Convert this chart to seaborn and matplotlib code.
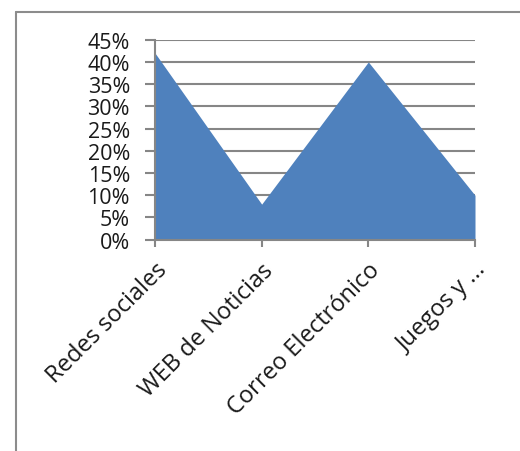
import matplotlib
matplotlib.use("Agg")
import matplotlib.pyplot as plt
import seaborn as sns
import pandas as pd
from matplotlib.lines import Line2D
from matplotlib.ticker import PercentFormatter

# Data
categories = ["Redes sociales", "WEB de Noticias", "Correo Electrónico", "Juegos y ..."]
shares = [0.42, 0.08, 0.40, 0.10]

df = pd.DataFrame({"categoria": categories, "porcentaje": shares})
df["pos"] = range(len(df))

sns.set_style("white")
plt.rcParams["font.family"] = ["Open Sans", "DejaVu Sans"]

fig = plt.figure(figsize=(5.2, 4.52), dpi=100)
ax = fig.add_axes([155 / 520, 1 - 240.7 / 452, 320 / 520, 200 / 452])

grey = "#868686"
txt = "#1a1a1a"

# area
sns.lineplot(data=df, x="pos", y="porcentaje", ax=ax, color="#4F81BD", linewidth=0)
ax.fill_between(df["pos"], df["porcentaje"], color="#4F81BD", linewidth=0, zorder=3)

ax.set_xlim(0, len(categories) - 1)
ax.set_ylim(0, 0.45)
ax.set_yticks([i * 0.05 for i in range(10)])
ax.yaxis.set_major_formatter(PercentFormatter(1.0, decimals=0))
ax.set_xticks(df["pos"])
ax.set_xticklabels(categories, rotation=45, ha="right", va="top",
                   rotation_mode="anchor", fontsize=17, color=txt)
ax.tick_params(axis="y", labelsize=15.5, labelcolor=txt, length=7, width=1.5,
               color=grey, pad=11, direction="out", left=True)
ax.tick_params(axis="x", length=5, width=1.5, color=grey, pad=8,
               direction="out", bottom=True)
ax.grid(axis="y", color=grey, linewidth=1.5, zorder=0)
ax.set_axisbelow(True)
ax.set_xlabel("")
ax.set_ylabel("")

for side in ["top", "right"]:
    ax.spines[side].set_visible(False)
for side in ["left", "bottom"]:
    ax.spines[side].set_color(grey)
    ax.spines[side].set_linewidth(1.5)
    ax.spines[side].set_zorder(4)

# chart frame (only top and left edges visible)
fig.add_artist(Line2D([16 / 520, 16 / 520], [0, 1 - 13 / 452], color="#8c8c8c",
                      linewidth=1.5, transform=fig.transFigure))
fig.add_artist(Line2D([16 / 520, 1], [1 - 13 / 452, 1 - 13 / 452], color="#8c8c8c",
                      linewidth=1.5, transform=fig.transFigure))

fig.savefig("out.png", dpi=100)
